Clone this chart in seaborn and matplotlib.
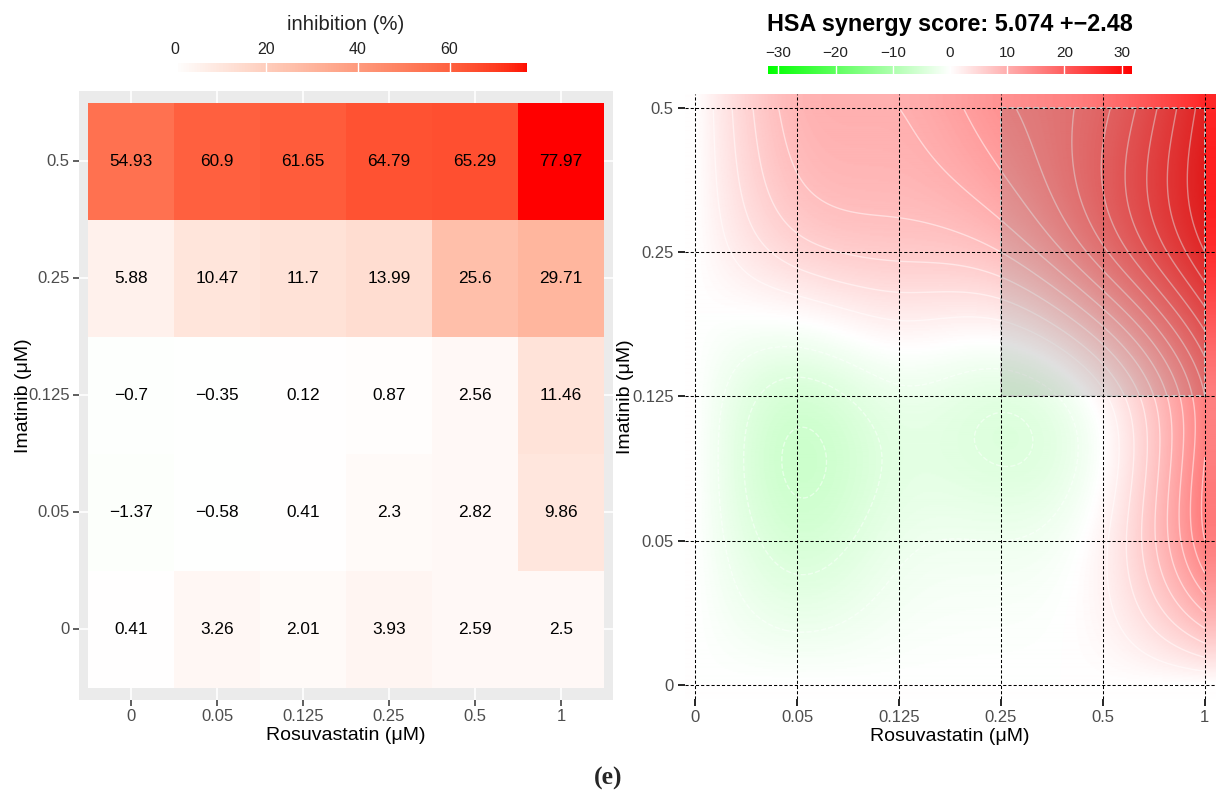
import numpy as np
import pandas as pd
import matplotlib
matplotlib.use("Agg")
import matplotlib.pyplot as plt
import seaborn as sns
from matplotlib.colors import ListedColormap, LinearSegmentedColormap, to_rgb
from matplotlib.patches import Rectangle

# ---------------- data ----------------
rosuvastatin = ["0", "0.05", "0.125", "0.25", "0.5", "1"]
imatinib = ["0", "0.05", "0.125", "0.25", "0.5"]          # bottom -> top

# % inhibition, one list per imatinib dose (columns follow rosuvastatin)
inhib_05 = [54.93, 60.9, 61.65, 64.79, 65.29, 77.97]
inhib_025 = [5.88, 10.47, 11.7, 13.99, 25.6, 29.71]
inhib_0125 = [-0.7, -0.35, 0.12, 0.87, 2.56, 11.46]
inhib_005 = [-1.37, -0.58, 0.41, 2.3, 2.82, 9.86]
inhib_0 = [0.41, 3.26, 2.01, 3.93, 2.59, 2.5]

# HSA synergy scores per imatinib dose
syn_0 = [0, 0, 0, 0, 0, 0]
syn_005 = [0, -5, -2.5, -2, 1.5, 16]
syn_0125 = [0, -5, -2.5, -3.5, 1.5, 16]
syn_025 = [0, 5, 6.5, 8, 15.5, 26]
syn_05 = [0, 9, 10, 13.5, 17.5, 27]

synergy_title = "HSA synergy score: 5.074 +\u22122.48"
inhib_ticks = [0, 20, 40, 60]
syn_ticks = [-30, -20, -10, 0, 10, 20, 30]
syn_limit = 31.8


# ---------------- colour helpers (CIE Lab blending) ----------------
_M = np.array([[0.4124564, 0.3575761, 0.1804375],
               [0.2126729, 0.7151522, 0.0721750],
               [0.0193339, 0.1191920, 0.9503041]])
_WHITE = np.array([0.95047, 1.0, 1.08883])
_EPS, _KAPPA = 216 / 24389, 24389 / 27


def srgb_to_lab(rgb):
    rgb = np.asarray(rgb, float)
    lin = np.where(rgb <= 0.04045, rgb / 12.92, ((rgb + 0.055) / 1.055) ** 2.4)
    f = (lin @ _M.T) / _WHITE
    ft = np.where(f > _EPS, np.cbrt(f), (_KAPPA * f + 16) / 116)
    return np.stack([116 * ft[..., 1] - 16,
                     500 * (ft[..., 0] - ft[..., 1]),
                     200 * (ft[..., 1] - ft[..., 2])], -1)


def lab_to_srgb(lab):
    L, a, b = lab[..., 0], lab[..., 1], lab[..., 2]
    fy = (L + 16) / 116
    fx, fz = fy + a / 500, fy - b / 200

    def inv(f):
        return np.where(f ** 3 > _EPS, f ** 3, (116 * f - 16) / _KAPPA)

    yr = np.where(L > _KAPPA * _EPS, fy ** 3, L / _KAPPA)
    xyz = np.stack([inv(fx) * _WHITE[0], yr, inv(fz) * _WHITE[2]], -1)
    lin = np.clip(xyz @ np.linalg.inv(_M).T, 0, 1)
    rgb = np.where(lin <= 0.0031308, 12.92 * lin, 1.055 * lin ** (1 / 2.4) - 0.055)
    return np.clip(rgb, 0, 1)


def lab_cmap(colors, n=256):
    labs = srgb_to_lab(np.array([to_rgb(c) for c in colors]))
    pos = np.linspace(0, 1, len(colors))
    t = np.linspace(0, 1, n)
    out = np.stack([np.interp(t, pos, labs[:, k]) for k in range(3)], -1)
    return ListedColormap(lab_to_srgb(out))


def spline_weights(n, xq):
    """Natural cubic spline weights on knots 0..n-1 evaluated at xq."""
    W = np.zeros((len(xq), n))
    idx = np.clip(np.floor(xq).astype(int), 0, n - 2)
    t = xq - idx
    for j in range(n):
        y = np.zeros(n)
        y[j] = 1.0
        A = np.zeros((n, n))
        r = np.zeros(n)
        A[0, 0] = A[-1, -1] = 1
        for i in range(1, n - 1):
            A[i, i - 1:i + 2] = [1, 4, 1]
            r[i] = 6 * (y[i - 1] - 2 * y[i] + y[i + 1])
        m = np.linalg.solve(A, r)
        W[:, j] = ((1 - t) * y[idx] + t * y[idx + 1]
                   + ((1 - t) ** 3 - (1 - t)) * m[idx] / 6
                   + (t ** 3 - t) * m[idx + 1] / 6)
    return W


# ---------------- figure ----------------
sns.set_theme(style="white")
plt.rcParams["font.family"] = ["Liberation Sans", "DejaVu Sans"]
plt.rcParams["axes.unicode_minus"] = True

fig = plt.figure(figsize=(12.16, 7.96), dpi=100)
ax1 = fig.add_axes([0.0653, 0.1210, 0.4385, 0.7643])
ax2 = fig.add_axes([0.5633, 0.1214, 0.4359, 0.7611])
cax1 = fig.add_axes([0.1398, 0.9095, 0.2936, 0.0113])
cax2 = fig.add_axes([0.6316, 0.9070, 0.2993, 0.0105])

tick_grey = "#4D4D4D"
tick_size = 12
title_size = 14

# ---- dose-response heatmap ----
inhib = pd.DataFrame([inhib_05, inhib_025, inhib_0125, inhib_005, inhib_0],
                     index=imatinib[::-1], columns=rosuvastatin)
labels = inhib.map(lambda v: f"{v:g}".replace("-", "\u2212"))
vmax_inh = float(np.abs(inhib.values).max())
heat_cmap = lab_cmap(["#00FF00", "#FFFFFF", "#FF0000"])

sns.heatmap(inhib, ax=ax1, cmap=heat_cmap, vmin=-vmax_inh, vmax=vmax_inh,
            annot=labels, fmt="", cbar=False, linewidths=0,
            annot_kws=dict(size=12.4, color="black"))
ax1.set_xlim(-0.1, len(rosuvastatin) + 0.1)
ax1.set_ylim(len(imatinib) + 0.1, -0.1)
ax1.set_facecolor("#EBEBEB")
for xc in np.arange(len(rosuvastatin)) + 0.5:
    ax1.axvline(xc, color="white", lw=1.2, zorder=0)
for yc in np.arange(len(imatinib)) + 0.5:
    ax1.axhline(yc, color="white", lw=1.2, zorder=0)
for s in ax1.spines.values():
    s.set_visible(False)
ax1.set_yticklabels(imatinib[::-1], rotation=0)
ax1.set_xticklabels(rosuvastatin, rotation=0)
ax1.tick_params(bottom=True, left=True, length=4, width=1.1, color="#333333",
                labelcolor=tick_grey, labelsize=tick_size, pad=3)
ax1.set_xlabel("Rosuvastatin (\u03bcM)", fontsize=title_size, color="black", labelpad=2)
ax1.set_ylabel("Imatinib (\u03bcM)", fontsize=title_size, color="black", labelpad=-3)

# inhibition colour bar
lo_bar, hi_bar = 0.8, 76.9
grad = np.linspace(lo_bar, hi_bar, 256)[None, :]
cax1.imshow(grad, extent=[lo_bar, hi_bar, 0, 1], aspect="auto", cmap=heat_cmap,
            vmin=-vmax_inh, vmax=vmax_inh)
cax1.set_xlim(-1.0, hi_bar)
cax1.set_ylim(0, 1)
for v in inhib_ticks:
    if lo_bar < v < hi_bar:
        cax1.axvline(v, color="white", lw=1.0)
cax1.set_yticks([])
cax1.set_xticks(inhib_ticks)
cax1.xaxis.tick_top()
cax1.tick_params(top=True, bottom=False, length=0, pad=4, labelsize=11.5,
                 labelcolor="#222222")
cax1.patch.set_alpha(0)
for s in cax1.spines.values():
    s.set_visible(False)
fig.text(346 / 1216, 1 - 24 / 796, "inhibition (%)", ha="center", va="center",
         fontsize=14.6, color="#222222")

# ---- synergy surface ----
syn = np.array([syn_0, syn_005, syn_0125, syn_025, syn_05], dtype=float)
ny, nx = syn.shape
syn_cmap = LinearSegmentedColormap.from_list("syn", ["#00FF00", "#FFFFFF", "#FF0000"])

xs = np.linspace(-0.1, nx - 1 + 0.1, 531)
ys = np.linspace(-0.1, ny - 1 + 0.1, 421)
Wx = spline_weights(nx, np.clip(xs, 0, nx - 1))
Wy = spline_weights(ny, np.clip(ys, 0, ny - 1))
surface = Wy @ syn @ Wx.T
ax2.imshow(surface, origin="lower", extent=[xs[0], xs[-1], ys[0], ys[-1]],
           aspect="auto", cmap=syn_cmap, vmin=-syn_limit, vmax=syn_limit,
           interpolation="bilinear", zorder=0)

xc = np.linspace(0, nx - 1, 251)
yc = np.linspace(0, ny - 1, 201)
zc = spline_weights(ny, yc) @ syn @ spline_weights(nx, xc).T
levels = [lv for lv in np.arange(-30, 31, 2) if lv != 0]
ax2.contour(xc, yc, zc, levels=levels, colors="white", linewidths=1.0,
            alpha=0.5, zorder=2)

# most synergistic area
ax2.add_patch(Rectangle((3, 2), 2, 2, facecolor=(0, 0, 0, 0.12),
                        edgecolor="#C8C8C8", linestyle=(0, (3, 1.5)),
                        linewidth=1.3, zorder=2.2))

ax2.set_xlim(xs[0], xs[-1])
ax2.set_ylim(ys[0], ys[-1])
ax2.set_xticks(range(nx))
ax2.set_xticklabels(rosuvastatin)
ax2.set_yticks(range(ny))
ax2.set_yticklabels(imatinib)
ax2.grid(True, color="black", linestyle=(0, (3, 2)), linewidth=0.75)
ax2.set_axisbelow(False)
for s in ax2.spines.values():
    s.set_visible(False)
ax2.tick_params(bottom=True, left=True, length=5, width=1.2, color="black",
                labelcolor=tick_grey, labelsize=tick_size, pad=3)
ax2.set_xlabel("Rosuvastatin (\u03bcM)", fontsize=title_size, color="black", labelpad=2)
ax2.set_ylabel("Imatinib (\u03bcM)", fontsize=title_size, color="black", labelpad=-1)

# synergy colour bar
grad2 = np.linspace(-syn_limit, syn_limit, 256)[None, :]
cax2.imshow(grad2, extent=[-syn_limit, syn_limit, 0, 1], aspect="auto",
            cmap=syn_cmap, vmin=-syn_limit, vmax=syn_limit)
cax2.set_xlim(-syn_limit, syn_limit)
cax2.set_ylim(0, 1)
for v in syn_ticks:
    cax2.axvline(v, color="white", lw=1.0)
cax2.set_yticks([])
cax2.set_xticks(syn_ticks)
cax2.xaxis.tick_top()
cax2.tick_params(top=True, bottom=False, length=0, pad=4, labelsize=11,
                 labelcolor="#222222")
for s in cax2.spines.values():
    s.set_visible(False)
fig.text(950 / 1216, 1 - 25 / 796, synergy_title, ha="center", va="center",
         fontsize=16.8, fontweight="bold", color="black")

fig.text(0.5, 1 - 778 / 796, "(e)", ha="center", va="center",
         family="Liberation Serif", fontweight="bold", fontsize=18.5)

fig.savefig("out.png", dpi=100)
